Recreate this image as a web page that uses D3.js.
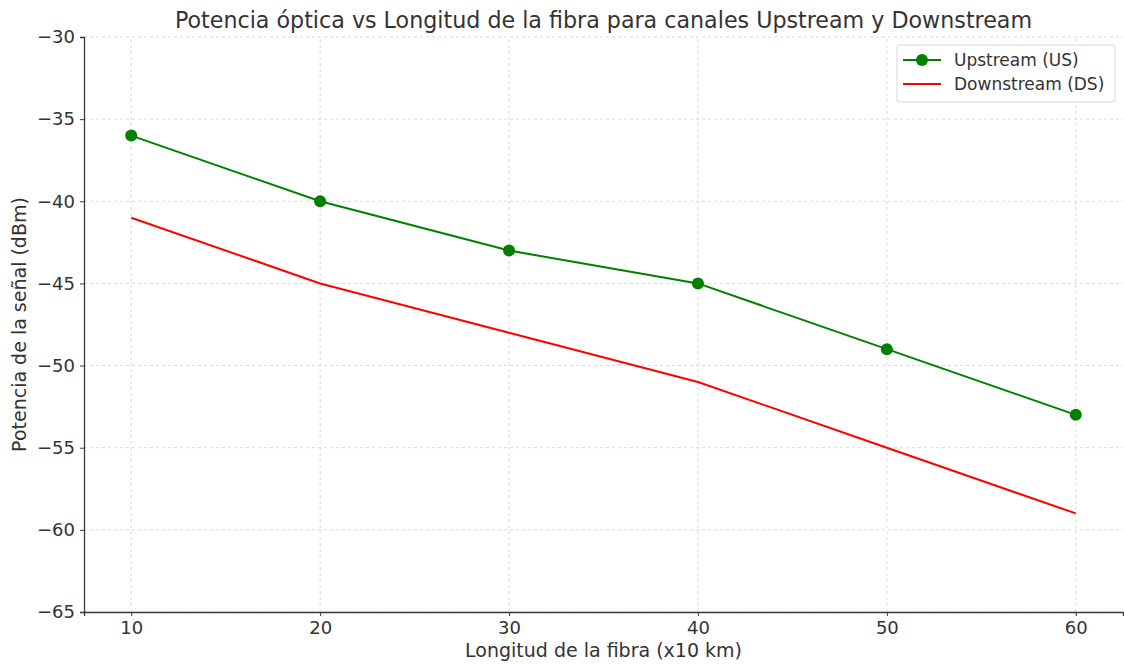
<!DOCTYPE html>
<html>
<head>
<meta charset="utf-8">
<script src="https://cdn.jsdelivr.net/npm/d3@7"></script>
<style>
  html, body { margin: 0; padding: 0; background: #fff; }
  svg { display: block; font-family: "DejaVu Sans", sans-serif; }
</style>
</head>
<body>
<svg id="chart" width="1124" height="664"></svg>
<script>
// Fibre length (x10 km) and received optical power (dBm)
const lengths = [10, 20, 30, 40, 50, 60];
const upstream = [-36, -40, -43, -45, -49, -53];
const downstream = [-41, -45, -48, -51, -55, -59];
const xTicks = [10, 20, 30, 40, 50, 60];
const yTicks = [-30, -35, -40, -45, -50, -55, -60, -65];

const svg = d3.select("#chart");
const margin = { left: 84, right: 1, top: 37, bottom: 52 };
const W = 1124, H = 664;

const x = d3.scaleLinear().domain([7.5, 62.5]).range([margin.left, W - margin.right]);
const y = d3.scaleLinear().domain([-65, -30]).range([H - margin.bottom, margin.top]);

const axisColor = "#3a3a3a";
const textColor = "#333";

// grid
const grid = svg.append("g");
grid.selectAll(".gx").data(xTicks).join("line")
  .attr("x1", d => x(d)).attr("x2", d => x(d))
  .attr("y1", y(-65)).attr("y2", y(-30))
  .attr("stroke", "#d0d0d0").attr("stroke-width", 0.8).attr("stroke-dasharray", "3,3");
grid.selectAll(".gy").data(yTicks).join("line")
  .attr("x1", x(7.5)).attr("x2", x(62.5))
  .attr("y1", d => y(d)).attr("y2", d => y(d))
  .attr("stroke", "#d0d0d0").attr("stroke-width", 0.8).attr("stroke-dasharray", "3,3");

// axes
const fmt = d => d < 0 ? "\u2212" + Math.abs(d) : String(d);
const xAxis = svg.append("g").attr("transform", `translate(0,${y(-65)})`)
  .call(d3.axisBottom(x).tickValues(xTicks).tickSize(4).tickPadding(5).tickFormat(d => d));
const yAxis = svg.append("g").attr("transform", `translate(${x(7.5)},0)`)
  .call(d3.axisLeft(y).tickValues(yTicks).tickSize(4).tickPadding(5).tickFormat(fmt));
[xAxis, yAxis].forEach(g => {
  g.select(".domain").attr("stroke", axisColor).attr("stroke-width", 1.3);
  g.selectAll(".tick line").attr("stroke", axisColor).attr("stroke-width", 1);
  g.selectAll(".tick text").attr("fill", textColor).style("font-size", "18px")
    .style("font-family", "'DejaVu Sans', sans-serif");
});

// lines
const lineGen = d3.line().x((d, i) => x(lengths[i])).y(d => y(d));
svg.append("path").datum(downstream).attr("d", lineGen)
  .attr("fill", "none").attr("stroke", "#ff0000").attr("stroke-width", 2);
svg.append("path").datum(upstream).attr("d", lineGen)
  .attr("fill", "none").attr("stroke", "#008000").attr("stroke-width", 2);
svg.append("g").selectAll("circle").data(upstream).join("circle")
  .attr("cx", (d, i) => x(lengths[i])).attr("cy", d => y(d)).attr("r", 6)
  .attr("fill", "#008000");

// title and labels
svg.append("text").attr("x", (x(7.5) + x(62.5)) / 2).attr("y", 28)
  .attr("text-anchor", "middle").attr("fill", textColor)
  .style("font-size", "22.2px")
  .text("Potencia óptica vs Longitud de la fibra para canales Upstream y Downstream");
svg.append("text").attr("x", (x(7.5) + x(62.5)) / 2).attr("y", 657)
  .attr("text-anchor", "middle").attr("fill", textColor)
  .style("font-size", "19px").text("Longitud de la fibra (x10 km)");
svg.append("text").attr("transform", `translate(26,${(y(-30) + y(-65)) / 2}) rotate(-90)`)
  .attr("text-anchor", "middle").attr("fill", textColor)
  .style("font-size", "19px").text("Potencia de la señal (dBm)");

// legend
const lg = svg.append("g").attr("transform", "translate(897,45)");
lg.append("rect").attr("x", 0).attr("y", 0).attr("width", 218).attr("height", 57)
  .attr("rx", 3).attr("fill", "#fff").attr("fill-opacity", 0.85)
  .attr("stroke", "#d8d8d8").attr("stroke-width", 1);
const items = [
  { label: "Upstream (US)", color: "#008000", marker: true },
  { label: "Downstream (DS)", color: "#ff0000", marker: false }
];
items.forEach((it, i) => {
  const cy = 15 + i * 24;
  lg.append("line").attr("x1", 6).attr("x2", 44).attr("y1", cy).attr("y2", cy)
    .attr("stroke", it.color).attr("stroke-width", 2);
  if (it.marker) lg.append("circle").attr("cx", 25).attr("cy", cy).attr("r", 6).attr("fill", it.color);
  lg.append("text").attr("x", 57).attr("y", cy + 6).attr("fill", textColor)
    .style("font-size", "17px").text(it.label);
});
</script>
</body>
</html>
